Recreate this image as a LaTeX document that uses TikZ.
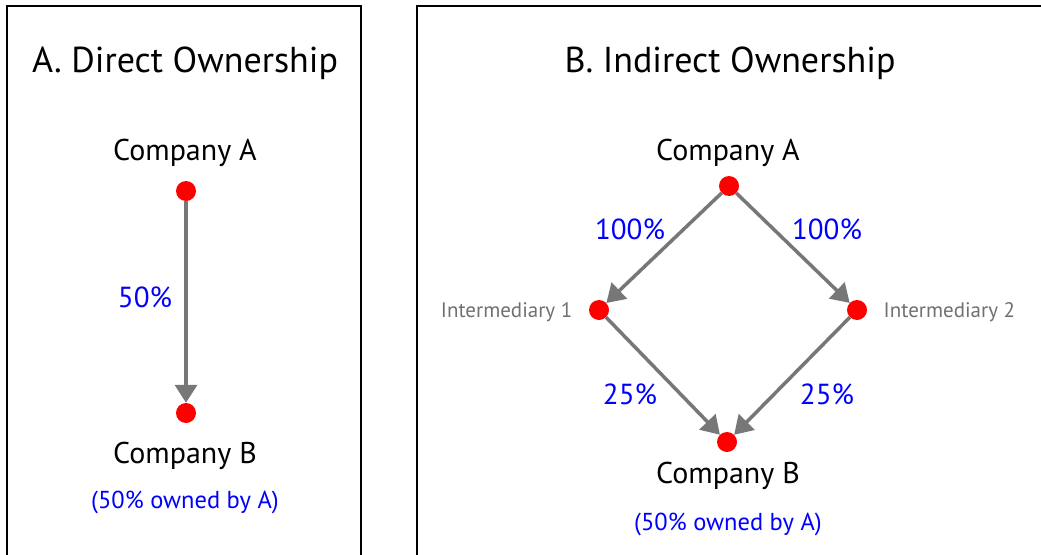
\documentclass[tikz,border=0pt]{standalone}
\usepackage{fontspec}
\setmainfont{PT Sans}
\usetikzlibrary{arrows.meta}
\usetikzlibrary{positioning}

\definecolor{arrowgray}{HTML}{777777}
\definecolor{labelgray}{HTML}{707070}

\begin{document}
\begin{tikzpicture}[x=1pt,y=-1pt,
  dot/.style={circle,fill=red,inner sep=0pt,minimum size=20pt},
  own/.style={draw=arrowgray,line width=3.5pt,-{Triangle[length=18pt,width=22pt]}},
  pct/.style={text=blue,font=\fontsize{29}{31}\selectfont},
  paneltitle/.style={font=\fontsize{36}{40}\selectfont},
  company/.style={font=\fontsize{30}{33}\selectfont},
  note/.style={text=blue,font=\fontsize{24.5}{27}\selectfont},
  inter/.style={text=labelgray,font=\fontsize{21}{23}\selectfont}]
\useasboundingbox (0,0) rectangle (1041,554);
\clip (0,0) rectangle (1041,554);
% panel frames
\draw[line width=2pt] (7,6) rectangle (361,580);
\draw[line width=2pt] (417,6) rectangle (1080,580);

% A. direct
\node[paneltitle] (titleA) at (185,63) {A. Direct Ownership};
\node[company] (nameA) at (185,153) {Company A};
\node[dot] (dirA) at (186,191) {};
\node[dot] (dirB) at (186,413) {};
\node[company] (nameB) at (185,456) {Company B};
\node[note] (noteB) at (185,502) {(50\% owned by A)};
\node[pct] (pctAB) at (145,297) {50\%};
\draw[own] (dirA) -- (dirB);

% B. indirect
\node[paneltitle] (titleB) at (730,63) {B. Indirect Ownership};
\node[company] (inameA) at (728,153) {Company A};
\node[dot] (indA) at (729,186) {};
\node[dot] (indI1) at (599,310) {};
\node[dot] (indI2) at (857,310) {};
\node[dot] (indB) at (727,442) {};
\node[inter, left=13pt of indI1, yshift=-2pt] (nameI1) {Intermediary 1};
\node[inter, right=13pt of indI2, yshift=-2pt] (nameI2) {Intermediary 2};
\node[company] (inameB) at (728,476) {Company B};
\node[note] (inoteB) at (728,524) {(50\% owned by A)};
\node[pct] (pctA1) at (630,229) {100\%};
\node[pct] (pctA2) at (827,229) {100\%};
\node[pct] (pct1B) at (630,394) {25\%};
\node[pct] (pct2B) at (827,394) {25\%};
\draw[own] (indA) -- (indI1);
\draw[own] (indA) -- (indI2);
\draw[own] (indI1) -- (indB);
\draw[own] (indI2) -- (indB);
\end{tikzpicture}
\end{document}
